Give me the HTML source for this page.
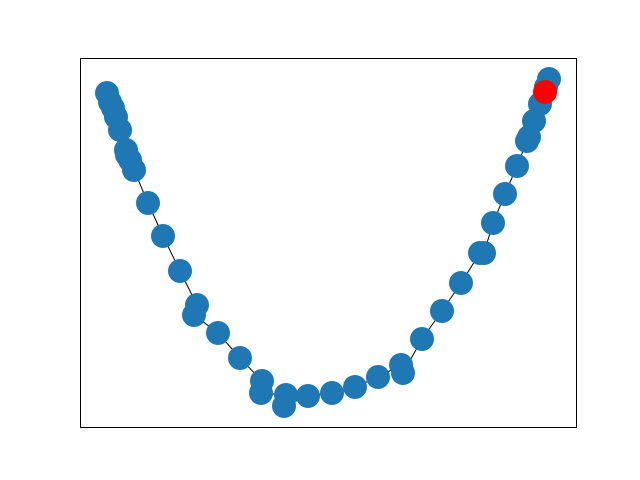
<!DOCTYPE html>
<html><head><meta charset="utf-8"><style>
body{margin:0;background:#fff;}
svg{display:block;font-family:"Liberation Sans",sans-serif;}
</style></head><body>
<svg id="chart" width="640" height="480">
<rect x="0" y="0" width="640" height="480" fill="#fff"/>
<g id="plot"></g>
<rect x="80.5" y="58.5" width="496" height="369" fill="none" stroke="#000" stroke-width="1"/>
</svg>
<script>
const xValues=[27,30,33,36,40,46,47,50,54,68,83,100,117,114,138,160,182,181,206,204,228,252,275,298,321,323,342,362,381,400,404,413,425,437,447,449,454,460,466,469];
const yValues=[334,325,319,310,297,277,272,267,257,224,191,156,122,112,94,69,46,34,32,21,31,34,40,50,62,54,88,116,144,174,174,204,233,261,286,290,306,323,340,348];
const highlightX=[465];
const highlightY=[335];
const xDomain=[0,496], yDomain=[0,369];
const L=80,T=58,W=496,H=369;
const sx=v=>L+(v-xDomain[0])/(xDomain[1]-xDomain[0])*W;
const sy=v=>T+H-(v-yDomain[0])/(yDomain[1]-yDomain[0])*H;
const NS="http://www.w3.org/2000/svg";
const g=document.getElementById('plot');
const line=document.createElementNS(NS,'polyline');
line.setAttribute('points',xValues.map((x,i)=>sx(x)+','+sy(yValues[i])).join(' '));
line.setAttribute('fill','none');line.setAttribute('stroke','#000');line.setAttribute('stroke-width','1');


g.appendChild(line);
xValues.forEach((x,i)=>{
 const c=document.createElementNS(NS,'circle');
 c.setAttribute('cx',sx(x));c.setAttribute('cy',sy(yValues[i]));c.setAttribute('r',12);c.setAttribute('fill','#1f77b4');
 
 
 g.appendChild(c);
});
highlightX.forEach((x,i)=>{
 const c=document.createElementNS(NS,'circle');
 c.setAttribute('cx',sx(x));c.setAttribute('cy',sy(highlightY[i]));c.setAttribute('r',12);c.setAttribute('fill','#ff0000');
 
 
 g.appendChild(c);
});
</script>
</body></html>
